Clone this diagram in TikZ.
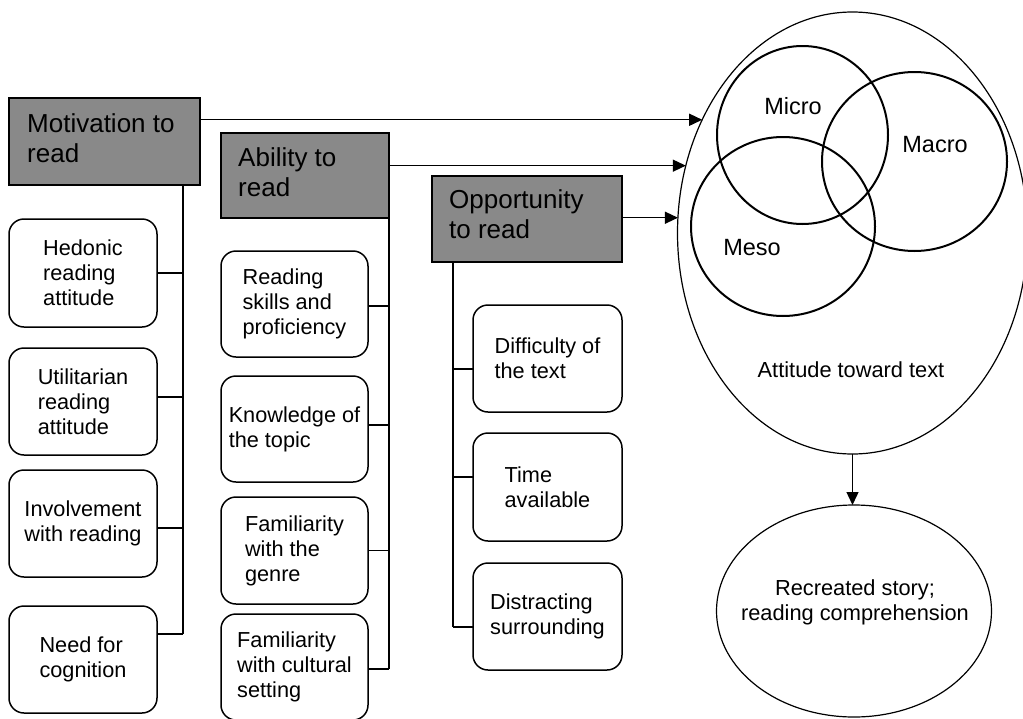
\documentclass[tikz,border=0pt]{standalone}
\usepackage{fontspec}
\setmainfont{Liberation Sans}
\usetikzlibrary{arrows.meta,calc,shapes.geometric}
\definecolor{hgray}{HTML}{898989}
\begin{document}
\begin{tikzpicture}[x=1pt,y=-1pt,
  header/.style={draw=black,line width=1.5pt,fill=hgray,inner sep=0,outer sep=0},
  htext/.style={font=\fontsize{26}{30}\selectfont,align=left,anchor=north west,inner sep=0},
  item/.style={draw=black,rounded corners=15pt,line width=1.5pt,fill=white,inner sep=0,outer sep=0,
    align=left,font=\fontsize{21.7}{25}\selectfont},
  conn/.style={line width=1.4pt},
  arr/.style={conn,-{Triangle[length=13pt,width=12pt]}},
  venn/.style={draw=black,ellipse,line width=2pt,inner sep=0,outer sep=0},
  oval/.style={draw=black,ellipse,line width=1.2pt,inner sep=0,outer sep=0},
  vlabel/.style={font=\fontsize{23.5}{27}\selectfont,inner sep=0},
  otext/.style={font=\fontsize{21.8}{25}\selectfont,align=center,inner sep=0}
]
\fill[white] (0,0) rectangle (1023,718);
\useasboundingbox (0,0) rectangle (1023,718);

% header boxes
\node[header,minimum width=191,minimum height=87] (mot) at (104.5,141.5) {};
\node[htext] (motT) at (27,113.4) {Motivation to\\read};
\node[header,minimum width=168,minimum height=85] (abi) at (305,175.5) {};
\node[htext] (abiT) at (238,147.4) {Ability to\\read};
\node[header,minimum width=190,minimum height=86] (opp) at (527,219) {};
\node[htext] (oppT) at (449,189.4) {Opportunity\\to read};

% column 1
\node[item,minimum width=148,minimum height=108] (hed) at (83,273) {Hedonic\\reading\\attitude};
\node[item,minimum width=148,minimum height=107] (uti) at (83,401.5) {Utilitarian\\reading\\attitude};
\node[item,minimum width=148,minimum height=107] (inv) at (83,523.5) {Involvement\\with reading};
\node[item,minimum width=148,minimum height=107] (need) at (83,659.5) {Need for\\cognition};

% column 2
\node[item,minimum width=147,minimum height=106] (rsk) at (294.5,304) {Reading\\skills and\\proficiency};
\node[item,minimum width=147,minimum height=106] (kno) at (294.5,429) {Knowledge of\\the topic};
\node[item,minimum width=147,minimum height=107] (fgen) at (294.5,550.5) {Familiarity\\with the\\genre};
\node[item,minimum width=147,minimum height=106] (fcul) at (294.5,667) {Familiarity\\with cultural\\setting};

% column 3
\node[item,minimum width=149,minimum height=107] (dif) at (547.5,358.5) {Difficulty of\\the text};
\node[item,minimum width=149,minimum height=108] (tim) at (547.5,487) {Time\\available};
\node[item,minimum width=149,minimum height=107] (dis) at (547.5,616.5) {Distracting\\surrounding};

% column 1 connectors
\coordinate (m0) at ($(mot.south east)+(-17,0)$);
\draw[conn] (m0) -- ++(0,449) coordinate (m1);
\draw[conn] (hed.east) -- (hed.east -| m0);
\draw[conn] ($(uti.east)+(0,-4.5)$) coordinate (u0) -- (u0 -| m0);
\draw[conn] ($(inv.east)+(0,4.5)$) coordinate (i0) -- (i0 -| m0);
\draw[conn] (m1) -- (m1 -| need.east);

% column 2 connectors
\draw[conn] (abi.south east) -- ++(0,451) coordinate (a1);
\draw[conn] ($(rsk.east)+(0,2)$) coordinate (r0) -- (r0 -| abi.east);
\draw[conn] ($(kno.east)+(0,-4)$) coordinate (k0) -- (k0 -| abi.east);
\draw[conn] (fgen.east) -- (fgen.east -| abi.east);
\draw[conn] (a1) -- (a1 -| fcul.east);

% column 3 connectors
\coordinate (o0) at ($(opp.south west)+(21,0)$);
\draw[conn] (o0) -- ++(0,365) coordinate (o1);
\draw[conn] ($(dif.west)+(0,10.5)$) coordinate (d0) -- (d0 -| o0);
\draw[conn] ($(tim.west)+(0,-10)$) coordinate (t0) -- (t0 -| o0);
\draw[conn] (o1) -- (o1 -| dis.west);

% attitude ellipse and venn
\node[oval,minimum width=350,minimum height=442] (att) at (852.5,233) {};
\node[venn,minimum width=171,minimum height=178] (micro) at (802.5,135) {};
\node[venn,minimum width=185,minimum height=179] (macro) at (914.5,161.5) {};
\node[venn,minimum width=184,minimum height=179] (meso) at (783,226.5) {};
\node[vlabel] (microT) at (793,106) {Micro};
\node[vlabel] (macroT) at (935,145) {Macro};
\node[vlabel] (mesoT) at (752,248) {Meso};
\node[otext] (attT) at (851,370) {Attitude toward text};

% outcome
\node[oval,minimum width=275,minimum height=212] (rec) at (854,611) {};
\node[otext] (recT) at (855,602) {Recreated story;\\reading comprehension};

% arrows
\draw[arr] (att.143.6 -| mot.east) -- (att.143.6);
\draw[arr] (att.158.1 -| abi.east) -- (att.158.1);
\draw[arr] (att.175.6 -| opp.east) -- (att.175.6);
\draw[arr] (att.south) -- (att.south |- rec.north);
\end{tikzpicture}
\end{document}
